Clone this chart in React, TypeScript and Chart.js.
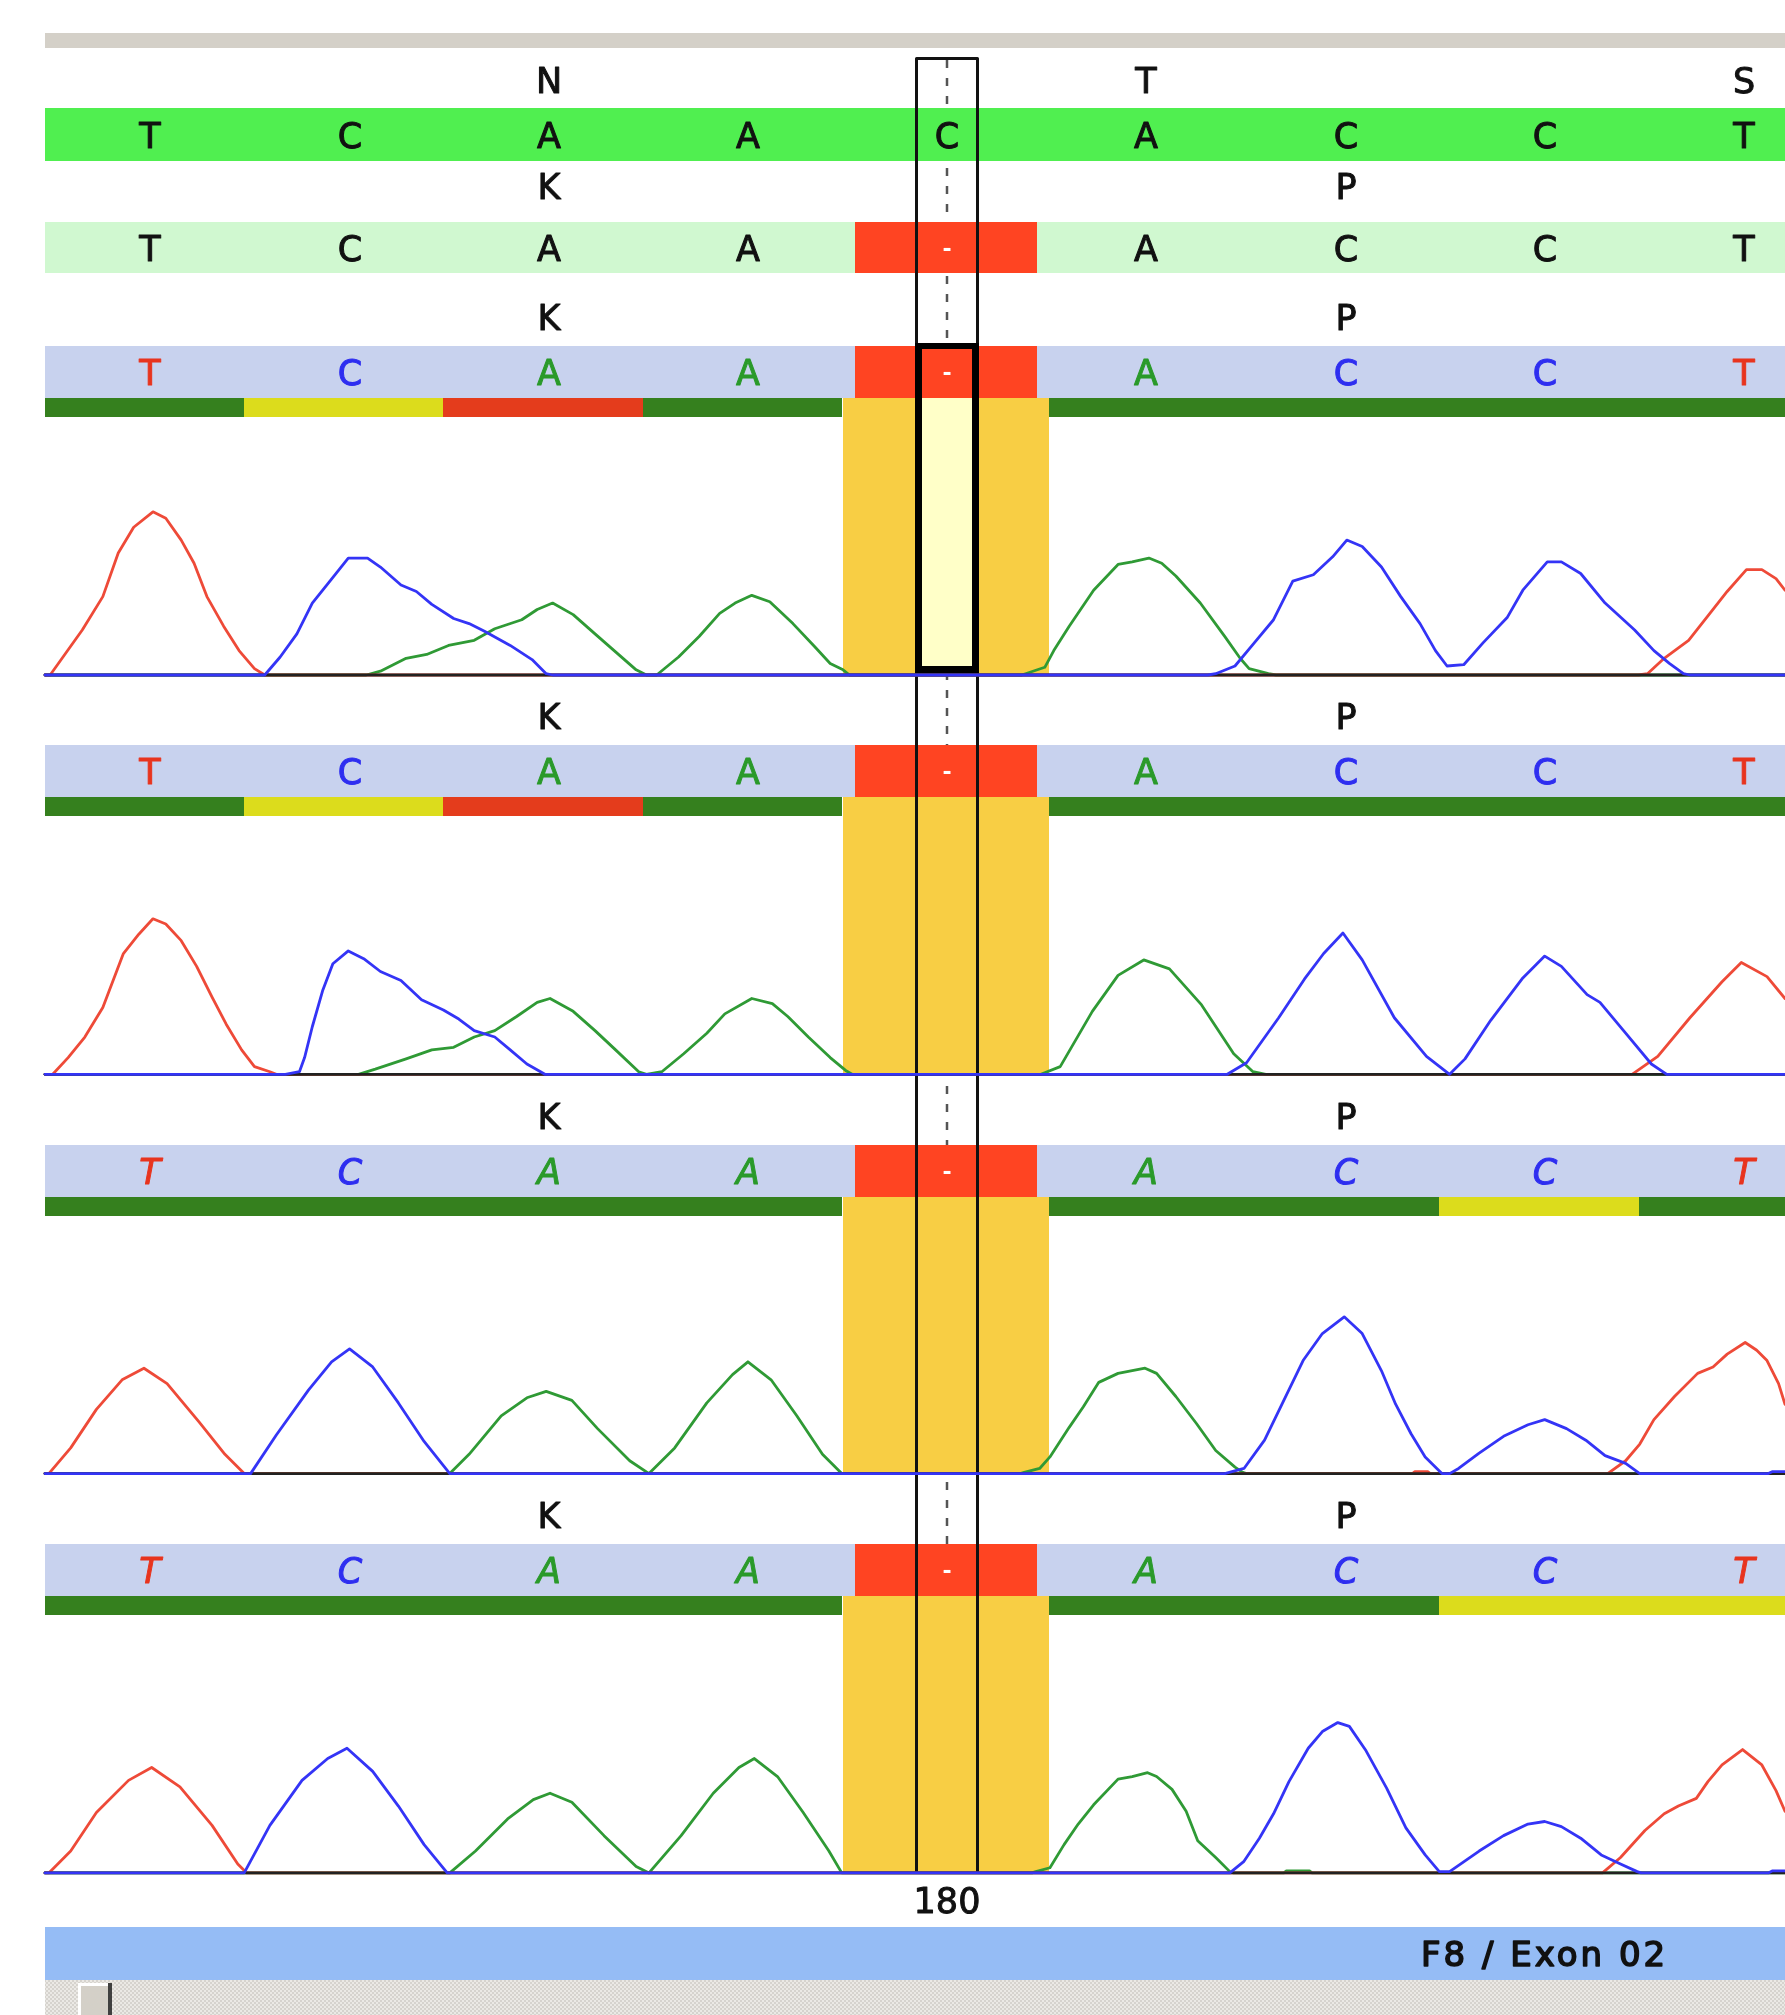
import React, { useEffect, useRef } from "react";
import { Chart, registerables } from "chart.js";

Chart.register(...registerables);

type Pt = [number, number];

// ================= DATA =================
// scan index of each base call (x of the chromatogram)
const BASE_CALL_SCANS = [82, 237, 392, 547, 702, 857, 1012, 1167, 1322];
// start scan of each base cell (quality bar cells)
const CELL_START_SCANS = [0, 155, 310, 465, 620, 775, 930, 1085, 1240];
const SCAN_END = 1354;

const REFERENCE_AMINO = ["", "", "N", "", "", "T", "", "", "S"];
const REFERENCE_BASES = ["T", "C", "A", "A", "C", "A", "C", "C", "T"];
const SAMPLE_AMINO = ["", "", "K", "", "", "", "P", "", ""];
const SAMPLE_BASES = ["T", "C", "A", "A", "-", "A", "C", "C", "T"];

const QUALITY_TRACE_1 = ["high", "medium", "low", "high", "", "high", "high", "high", "high"];
const QUALITY_TRACE_2 = ["high", "medium", "low", "high", "", "high", "high", "high", "high"];
const QUALITY_TRACE_3 = ["high", "high", "high", "high", "", "high", "high", "medium", "high"];
const QUALITY_TRACE_4 = ["high", "high", "high", "high", "", "high", "high", "medium", "medium"];
const ITALIC_TRACES = [false, false, true, true];

const SELECTED_BASE = 4;
const SELECTED_POSITION = "180";
const AMPLICON_LABEL = "F8 / Exon 02";

// chromatogram traces: [scan, signal]
const T1_A: Pt[] = [[0,0],[250,0],[261,3],[281,13],[297,16],[314,23],[334,27],[350,36],[371,43],[383,51],[395,56],[411,47],[428,32],[444,18],[460,4],[468,0],[476,0],[493,14],[509,30],[525,48],[537,56],[550,62],[564,57],[582,40],[599,22],[611,9],[621,4],[626,0],[760,0],[763,1],[778,6],[785,19],[797,38],[816,66],[835,86],[846,88],[859,91],[869,87],[880,77],[899,56],[918,30],[930,13],[937,5],[952,1],[958,0],[1354,0]];
const T1_C: Pt[] = [[0,0],[171,0],[183,14],[196,32],[208,56],[220,71],[236,91],[251,91],[261,84],[277,70],[289,65],[301,55],[318,44],[330,40],[342,34],[362,23],[379,12],[390,1],[395,0],[905,0],[911,1],[926,7],[941,25],[956,43],[971,73],[987,78],[1002,92],[1013,105],[1025,100],[1040,84],[1055,61],[1070,40],[1082,19],[1091,7],[1104,8],[1119,25],[1138,45],[1150,66],[1169,88],[1180,88],[1195,79],[1214,56],[1237,35],[1252,19],[1264,9],[1275,1],[1280,0],[1354,0]];
const T1_G: Pt[] = [[0,0],[1354,0]];
const T1_T: Pt[] = [[0,0],[4,0],[14,14],[29,35],[45,61],[57,95],[69,115],[84,127],[94,122],[106,105],[116,87],[126,61],[139,38],[151,19],[163,5],[171,0],[1240,0],[1247,1],[1260,13],[1279,27],[1298,51],[1309,65],[1324,82],[1336,82],[1347,75],[1354,66]];

const T2_A: Pt[] = [[0,0],[244,0],[257,4],[281,12],[301,19],[318,21],[334,29],[350,34],[367,45],[383,56],[393,59],[411,49],[428,34],[444,19],[462,2],[468,0],[480,2],[497,16],[515,32],[529,47],[550,59],[566,55],[578,45],[594,29],[611,13],[623,3],[628,0],[775,0],[790,6],[815,49],[835,77],[855,89],[875,82],[900,54],[925,16],[940,2],[950,0],[1354,0]];
const T2_C: Pt[] = [[0,0],[187,0],[198,2],[202,13],[208,37],[216,65],[224,86],[236,96],[248,90],[261,80],[277,73],[293,58],[310,50],[322,43],[334,34],[350,29],[362,19],[375,8],[389,0],[920,0],[935,9],[960,44],[980,74],[995,94],[1010,110],[1025,89],[1050,44],[1075,14],[1093,0],[1105,12],[1125,42],[1150,75],[1167,92],[1180,84],[1200,62],[1210,56],[1230,32],[1250,8],[1262,0],[1354,0]];
const T2_G: Pt[] = [[0,0],[1354,0]];
const T2_T: Pt[] = [[0,0],[6,0],[18,13],[31,29],[45,52],[61,94],[73,109],[84,121],[94,117],[106,104],[118,84],[130,60],[141,39],[153,19],[163,6],[175,2],[180,0],[1235,0],[1255,14],[1280,44],[1305,72],[1320,87],[1340,76],[1354,59]];

const T3_A: Pt[] = [[0,0],[315,0],[330,15],[355,45],[375,59],[390,64],[410,57],[430,35],[455,10],[470,0],[490,20],[515,55],[535,77],[547,87],[565,73],[585,45],[605,15],[620,0],[759,0],[762,1],[774,4],[782,13],[797,36],[808,52],[820,71],[835,78],[856,82],[865,78],[880,60],[896,39],[911,18],[926,5],[932,1],[935,0],[1354,0]];
const T3_C: Pt[] = [[0,0],[160,0],[180,30],[205,65],[223,87],[237,97],[255,83],[275,55],[295,25],[315,0],[918,0],[933,4],[949,26],[964,57],[979,88],[994,109],[1011,122],[1025,109],[1040,80],[1051,54],[1063,31],[1074,13],[1087,0],[1093,0],[1100,4],[1116,16],[1135,29],[1154,38],[1167,42],[1184,35],[1199,26],[1214,14],[1230,8],[1241,0],[1341,0],[1344,1.5],[1354,1.5]];
const T3_G: Pt[] = [[0,0],[1354,0]];
const T3_T: Pt[] = [[0,0],[3,0],[20,20],[40,50],[60,73],[77,82],[95,70],[120,40],[140,15],[155,0],[1064,0],[1066,1.5],[1076,1.5],[1078,0],[1216,0],[1230,10],[1241,23],[1252,42],[1268,60],[1286,78],[1298,83],[1309,93],[1323,102],[1332,96],[1340,88],[1349,70],[1354,54]];

const T4_A: Pt[] = [[0,0],[315,0],[335,17],[360,42],[380,57],[393,62],[410,55],[435,29],[460,5],[470,0],[495,29],[520,62],[540,82],[552,89],[570,75],[590,47],[610,17],[620,0],[768,0],[771,1],[782,4],[793,22],[804,38],[816,53],[835,73],[846,75],[858,78],[865,75],[877,65],[888,48],[897,25],[911,12],[922,1],[925,0],[964,0],[966,1.5],[984,1.5],[986,0],[1354,0]];
const T4_C: Pt[] = [[0,0],[155,0],[175,37],[200,72],[220,89],[235,97],[255,79],[275,52],[295,22],[313,0],[922,0],[933,9],[945,27],[956,46],[968,71],[983,97],[994,110],[1006,117],[1015,114],[1028,95],[1044,66],[1059,35],[1074,14],[1085,1],[1093,1],[1116,17],[1135,29],[1154,38],[1167,40],[1180,36],[1195,27],[1211,14],[1226,7],[1239,1],[1242,0],[1341,0],[1344,1.5],[1354,1.5]];
const T4_G: Pt[] = [[0,0],[1354,0]];
const T4_T: Pt[] = [[0,0],[3,0],[20,17],[40,47],[65,72],[83,82],[105,67],[130,37],[150,7],[157,0],[1212,0],[1226,12],[1245,33],[1260,46],[1271,52],[1285,58],[1294,71],[1305,84],[1321,96],[1336,84],[1347,64],[1354,48]];

// ================= LAYOUT / STYLE =================
const W = 1785;
const H = 2015;
const LEFT_PX = 45;
const PX_PER_SCAN = (W - LEFT_PX) / SCAN_END;
const X_MIN = -LEFT_PX / PX_PER_SCAN;

const TOP_BAR: Pt = [33, 48];
const REF_AMINO_Y = 80;
const REF_ROW: Pt = [108, 161];
const SAMPLE_AMINO_Y = 186;
const SAMPLE_ROW: Pt = [222, 273];
const PANEL_PITCH = 399.3;
const PANEL_AMINO_Y = 317;
const PANEL_ROW: Pt = [346, 398];
const QUALITY_ROW: Pt = [398, 417];
const BASELINE = 675;
const PX_PER_SIGNAL = 1.285;
const SELECT_TOP = 57;
const SELECT_HALF = 25;
const GAP_CELL: Pt = [-72, 70];
const GAP_SHADE: Pt = [-81, 79];
const THICK_BOX_TOP = 343;
const POSITION_LABEL_Y = 1900;
const LABEL_BAR: Pt = [1927, 1980];
const LABEL_TEXT_SCAN = 1071;
const SCROLL_ROW: Pt = [1980, 2015];

const FONT_SIZE = 35;
const FONT_FAMILY = '"DejaVu Sans", "Liberation Sans", sans-serif';

const COLORS = {
  topBar: "#d4d0c8",
  refRow: "#50ef50",
  sampleRow: "#d0f8d0",
  traceRow: "#c8d2ee",
  gapCell: "#ff4422",
  shade: "#f8ce44",
  selectFill: "#ffffc8",
  labelBar: "#95bcf5",
  quality: { high: "#35801e", medium: "#dcdc1c", low: "#e43c1c" } as Record<string, string>,
  base: { A: "#2a9a2a", C: "#2e2ef0", G: "#111111", T: "#e8341e", "-": "#ffffff" } as Record<string, string>,
  trace: { A: "#2f9a35", C: "#3434f6", G: "#222222", T: "#ee4a38" } as Record<string, string>,
};

const TRACES = [
  { A: T1_A, C: T1_C, G: T1_G, T: T1_T },
  { A: T2_A, C: T2_C, G: T2_G, T: T2_T },
  { A: T3_A, C: T3_C, G: T3_G, T: T3_T },
  { A: T4_A, C: T4_C, G: T4_G, T: T4_T },
] as Record<string, Pt[]>[];
const QUALITIES = [QUALITY_TRACE_1, QUALITY_TRACE_2, QUALITY_TRACE_3, QUALITY_TRACE_4];
const CHANNEL_ORDER: Record<string, number> = { C: 0, G: 1, T: 2, A: 3 };

const baselineOf = (p: number) => BASELINE + p * PANEL_PITCH;

const layoutPlugin = {
  id: "sequencerLayout",
  beforeDatasetsDraw(chart: any) {
    const ctx: CanvasRenderingContext2D = chart.ctx;
    const xs = chart.scales.x;
    const ys = chart.scales.y;
    const X = (s: number) => Math.round(xs.getPixelForValue(s));
    const Y = (v: number) => Math.round(ys.getPixelForValue(v));
    const band = (s0: number, s1: number, y0: number, y1: number, color: string) => {
      ctx.fillStyle = color;
      ctx.fillRect(X(s0), Y(y0), X(s1) - X(s0), Y(y1) - Y(y0));
    };
    const text = (
      str: string,
      s: number,
      yc: number,
      color: string,
      opts: { italic?: boolean; size?: number; bold?: boolean; align?: CanvasTextAlign; spacing?: number; heavy?: number } = {}
    ) => {
      const size = opts.size ?? FONT_SIZE;
      ctx.font = `${opts.italic ? "italic " : ""}${opts.bold ? "bold " : ""}${size}px ${FONT_FAMILY}`;
      ctx.fillStyle = color;
      ctx.strokeStyle = color;
      ctx.lineJoin = "round";
      ctx.textAlign = opts.align ?? "center";
      ctx.textBaseline = "alphabetic";
      (ctx as any).letterSpacing = `${opts.spacing ?? 0}px`;
      const x = X(s);
      const y = Y(yc) + size * 0.365;
      ctx.fillText(str, x, y);
      const heavy = opts.heavy ?? 1;
      if (heavy > 0) {
        ctx.lineWidth = heavy;
        ctx.strokeText(str, x, y);
      }
      (ctx as any).letterSpacing = "0px";
    };
    const sel = BASE_CALL_SCANS[SELECTED_BASE];
    const lastBottom = baselineOf(TRACES.length - 1);

    ctx.save();
    ctx.fillStyle = "#ffffff";
    ctx.fillRect(0, 0, chart.width, chart.height);

    // top grey bar
    band(0, SCAN_END, TOP_BAR[0], TOP_BAR[1], COLORS.topBar);

    // dashed cursor line
    ctx.save();
    ctx.strokeStyle = "#555555";
    ctx.lineWidth = 2.5;
    ctx.setLineDash([8, 10]);
    ctx.beginPath();
    ctx.moveTo(X(sel), Y(SELECT_TOP + 3));
    ctx.lineTo(X(sel), Y(lastBottom));
    ctx.stroke();
    ctx.restore();

    // reference rows
    REFERENCE_AMINO.forEach((a, i) => a && text(a, BASE_CALL_SCANS[i], REF_AMINO_Y, "#111"));
    band(0, SCAN_END, REF_ROW[0], REF_ROW[1], COLORS.refRow);
    REFERENCE_BASES.forEach((b, i) => text(b, BASE_CALL_SCANS[i], (REF_ROW[0] + REF_ROW[1]) / 2, "#111"));

    SAMPLE_AMINO.forEach((a, i) => a && text(a, BASE_CALL_SCANS[i], SAMPLE_AMINO_Y, "#111"));
    band(0, SCAN_END, SAMPLE_ROW[0], SAMPLE_ROW[1], COLORS.sampleRow);
    SAMPLE_BASES.forEach((b, i) => {
      const yc = (SAMPLE_ROW[0] + SAMPLE_ROW[1]) / 2;
      if (b === "-") {
        band(BASE_CALL_SCANS[i] + GAP_CELL[0], BASE_CALL_SCANS[i] + GAP_CELL[1], SAMPLE_ROW[0], SAMPLE_ROW[1], COLORS.gapCell);
        text("-", BASE_CALL_SCANS[i], yc, "#fff", { size: 22, bold: true, heavy: 0 });
      } else text(b, BASE_CALL_SCANS[i], yc, "#111");
    });

    // trace panels
    TRACES.forEach((_, p) => {
      const d = p * PANEL_PITCH;
      SAMPLE_AMINO.forEach((a, i) => a && text(a, BASE_CALL_SCANS[i], PANEL_AMINO_Y + d, "#111"));
      band(0, SCAN_END, PANEL_ROW[0] + d, PANEL_ROW[1] + d, COLORS.traceRow);
      const yc = (PANEL_ROW[0] + PANEL_ROW[1]) / 2 + d;
      SAMPLE_BASES.forEach((b, i) => {
        if (b === "-") {
          band(BASE_CALL_SCANS[i] + GAP_CELL[0], BASE_CALL_SCANS[i] + GAP_CELL[1], PANEL_ROW[0] + d, PANEL_ROW[1] + d, COLORS.gapCell);
          text("-", BASE_CALL_SCANS[i], yc, "#fff", { size: 22, bold: true, heavy: 0 });
        } else text(b, BASE_CALL_SCANS[i], yc, COLORS.base[b], { italic: ITALIC_TRACES[p] });
      });
      QUALITIES[p].forEach((q, i) => {
        if (!q) return;
        const s0 = CELL_START_SCANS[i];
        const s1 = i + 1 < CELL_START_SCANS.length ? CELL_START_SCANS[i + 1] : SCAN_END;
        band(s0, s1, QUALITY_ROW[0] + d, QUALITY_ROW[1] + d, COLORS.quality[q]);
      });
      SAMPLE_BASES.forEach((b, i) => {
        if (b !== "-") return;
        band(BASE_CALL_SCANS[i] + GAP_SHADE[0], BASE_CALL_SCANS[i] + GAP_SHADE[1], QUALITY_ROW[0] + d, baselineOf(p), COLORS.shade);
      });
    });

    // thin selection box
    ctx.strokeStyle = "#111111";
    ctx.lineWidth = 3;
    const xl = X(sel - SELECT_HALF) + 1.5;
    const xr = X(sel + SELECT_HALF) - 1.5;
    ctx.beginPath();
    ctx.moveTo(xl, Y(lastBottom));
    ctx.lineTo(xl, Y(SELECT_TOP) + 1.5);
    ctx.lineTo(xr, Y(SELECT_TOP) + 1.5);
    ctx.lineTo(xr, Y(lastBottom));
    ctx.stroke();

    // thick box in first trace panel
    const b0 = baselineOf(0);
    const bx0 = X(sel - SELECT_HALF);
    const bx1 = X(sel + SELECT_HALF);
    const t = 7;
    ctx.fillStyle = COLORS.selectFill;
    ctx.fillRect(bx0 + t, Y(QUALITY_ROW[0]), bx1 - bx0 - 2 * t, Y(b0) - Y(QUALITY_ROW[0]));
    ctx.fillStyle = "#000000";
    ctx.fillRect(bx0, Y(THICK_BOX_TOP), t, Y(b0) - Y(THICK_BOX_TOP));
    ctx.fillRect(bx1 - t, Y(THICK_BOX_TOP), t, Y(b0) - Y(THICK_BOX_TOP));
    ctx.fillRect(bx0, Y(THICK_BOX_TOP), bx1 - bx0, 6);
    ctx.fillRect(bx0, Y(b0) - 9, bx1 - bx0, 8);

    // position label
    text(SELECTED_POSITION, sel, POSITION_LABEL_Y, "#111");

    // amplicon label bar
    band(0, SCAN_END, LABEL_BAR[0], LABEL_BAR[1], COLORS.labelBar);
    text(AMPLICON_LABEL, LABEL_TEXT_SCAN, (LABEL_BAR[0] + LABEL_BAR[1]) / 2, "#111", { align: "left", size: 34, heavy: 1.6, spacing: 3 });

    // scroll bar
    const pat = document.createElement("canvas");
    pat.width = 4;
    pat.height = 4;
    const pc = pat.getContext("2d")!;
    pc.fillStyle = "#ebe9e5";
    pc.fillRect(0, 0, 4, 4);
    pc.fillStyle = "#d6d3ce";
    pc.fillRect(0, 0, 2, 2);
    pc.fillRect(2, 2, 2, 2);
    const pattern = ctx.createPattern(pat, "repeat");
    if (pattern) {
      ctx.fillStyle = pattern;
      ctx.fillRect(X(0), Y(SCROLL_ROW[0]), X(SCAN_END) - X(0), Y(SCROLL_ROW[1]) - Y(SCROLL_ROW[0]));
    }
    const th0 = X(26);
    const th1 = X(52);
    ctx.fillStyle = "#d4d0c8";
    ctx.fillRect(th0, Y(SCROLL_ROW[0]) + 3, th1 - th0, Y(SCROLL_ROW[1]) - Y(SCROLL_ROW[0]) - 3);
    ctx.fillStyle = "#ffffff";
    ctx.fillRect(th0, Y(SCROLL_ROW[0]) + 3, 3, Y(SCROLL_ROW[1]) - Y(SCROLL_ROW[0]) - 3);
    ctx.fillRect(th0, Y(SCROLL_ROW[0]) + 3, th1 - th0, 3);
    ctx.fillStyle = "#404040";
    ctx.fillRect(th1 - 4, Y(SCROLL_ROW[0]) + 3, 4, Y(SCROLL_ROW[1]) - Y(SCROLL_ROW[0]) - 3);

    ctx.restore();
  },
};

function buildConfig(): any {
  const datasets: any[] = [];
  TRACES.forEach((tr, p) => {
    ["A", "T", "G", "C"].forEach((ch) => {
      datasets.push({
        type: "line",
        label: `trace ${p + 1} ${ch}`,
        data: tr[ch].map(([x, y]) => ({ x, y })),
        yAxisID: `yTrace${p}`,
        borderColor: COLORS.trace[ch],
        borderWidth: 2.8,
        borderJoinStyle: "round",
        borderCapStyle: "round",
        pointRadius: 0,
        tension: 0,
        fill: false,
        order: CHANNEL_ORDER[ch],
      });
    });
  });
  const scales: any = {
    x: { type: "linear", min: X_MIN, max: SCAN_END, display: false },
    y: { type: "linear", axis: "y", position: "left", min: 0, max: H, reverse: true, display: false },
  };
  TRACES.forEach((_, p) => {
    const b = baselineOf(p);
    scales[`yTrace${p}`] = {
      type: "linear",
      axis: "y",
      position: "left",
      min: (b - H) / PX_PER_SIGNAL,
      max: b / PX_PER_SIGNAL,
      display: false,
    };
  });
  return {
    type: "line",
    data: { datasets },
    options: {
      responsive: false,
      maintainAspectRatio: false,
      animation: false,
      devicePixelRatio: 1,
      events: [],
      layout: { padding: 0 },
      plugins: { legend: { display: false }, tooltip: { enabled: false }, title: { display: false } },
      scales,
    },
    plugins: [layoutPlugin],
  };
}

export default function App() {
  const ref = useRef<HTMLCanvasElement | null>(null);
  useEffect(() => {
    document.body.style.margin = "0";
    const canvas = ref.current;
    if (!canvas) return;
    const chart = new Chart(canvas, buildConfig());
    return () => chart.destroy();
  }, []);
  return (
    <div style={{ position: "absolute", left: 0, top: 0, width: W, height: H, background: "#ffffff" }}>
      <canvas ref={ref} width={W} height={H} style={{ width: W, height: H, display: "block" }} />
    </div>
  );
}
